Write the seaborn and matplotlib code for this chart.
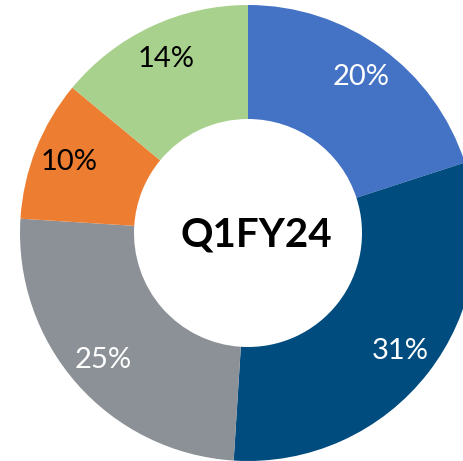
import matplotlib
matplotlib.use("Agg")
import matplotlib.pyplot as plt
import seaborn as sns

# slice shares, clockwise from 12 o'clock
shares = [20, 31, 25, 10, 14]
slice_colors = ["#4472C4", "#004C7F", "#8B9196", "#ED7D31", "#A9D18E"]
label_colors = ["white", "white", "white", "black", "black"]
center_text = "Q1FY24"

sns.set_theme(style="white")
plt.rcParams['font.family'] = ['Lato', 'DejaVu Sans']

fig = plt.figure(figsize=(4.64, 4.61), dpi=100)
ax = fig.add_axes([20/464, 0/461, 456/464, 456/461])

palette = sns.color_palette(slice_colors)
wedges, texts, autotexts = ax.pie(
    shares, colors=palette, startangle=90, counterclock=False,
    radius=1.0, autopct=lambda p: f"{p:.0f}%", pctdistance=0.845,
    wedgeprops=dict(width=0.5, linewidth=0),
    textprops=dict(fontsize=21))
for t, c in zip(autotexts, label_colors):
    t.set_color(c)

ax.text(0.035, -0.01, center_text, ha="center", va="center",
        fontsize=29, fontweight="bold", color="black")

ax.set_xlim(-1, 1)
ax.set_ylim(-1, 1)
ax.axis("off")

fig.savefig("out.png", dpi=100)
